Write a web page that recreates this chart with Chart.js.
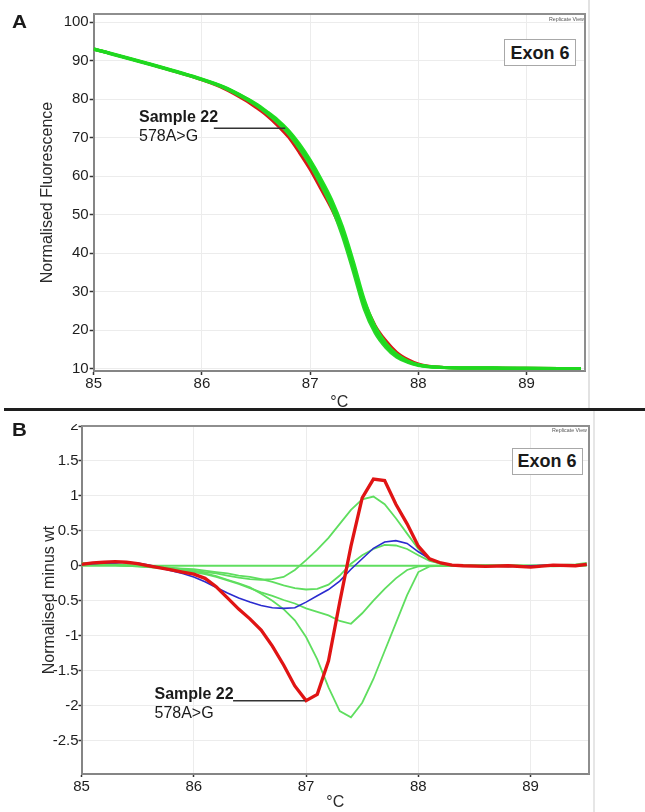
<!DOCTYPE html>
<html><head><meta charset="utf-8">
<script src="https://cdn.jsdelivr.net/npm/chart.js@4"></script>
<style>
html,body{margin:0;padding:0;background:#fff;}
body{width:645px;height:812px;position:relative;overflow:hidden;font-family:'Liberation Sans',Arial,sans-serif;color:#1a1a1a;}
canvas{position:absolute;left:0;}
.t{position:absolute;white-space:nowrap;line-height:1;}
.box{position:absolute;border:1.5px solid #a8a8a8;box-sizing:border-box;display:flex;align-items:center;justify-content:center;font-weight:bold;font-size:18px;color:#1a1a1a;background:#fff;line-height:1;}
.rv{position:absolute;font-size:5.3px;color:#555;white-space:nowrap;line-height:1;}
</style></head>
<body>
<canvas id="cA" width="645" height="412" style="top:0;width:645px;height:412px"></canvas>
<canvas id="cB" width="645" height="388" style="top:424px;width:645px;height:388px"></canvas>
<div style="position:absolute;left:4px;top:408px;width:641px;height:3px;background:#1e1e1e"></div>
<div style="position:absolute;left:588px;top:0;width:1.5px;height:408px;background:#e2e2e2"></div>
<div style="position:absolute;left:593px;top:411px;width:1.5px;height:401px;background:#e6e6e6"></div>

<div class="t" style="left:12px;top:12.6px;font-size:18.5px;font-weight:bold;transform:scaleX(1.12);transform-origin:left top">A</div>
<div class="t" style="left:12px;top:420px;font-size:19px;font-weight:bold;transform:scaleX(1.08);transform-origin:left top">B</div>

<div class="box" style="left:504px;top:39px;width:72px;height:27px">Exon 6</div>
<div class="box" style="left:511.5px;top:447.5px;width:71px;height:27px">Exon 6</div>
<div class="rv" style="left:549px;top:16.5px">Replicate View</div>
<div class="rv" style="left:552px;top:427.5px">Replicate View</div>

<div class="t" style="left:139px;top:108.8px;font-size:16px;font-weight:bold">Sample 22</div>
<div class="t" style="left:139px;top:128.2px;font-size:16px">578A&gt;G</div>
<div class="t" style="left:154.5px;top:685.8px;font-size:16px;font-weight:bold">Sample 22</div>
<div class="t" style="left:154.5px;top:704.5px;font-size:16px">578A&gt;G</div>

<script>
// ---------- Panel A : normalised melt curves ----------
const tempsA = [85.0, 85.5, 86.0, 86.2, 86.4, 86.5, 86.6, 86.7, 86.8, 86.9, 87.0, 87.1, 87.2, 87.3, 87.4, 87.5, 87.6, 87.7, 87.8, 87.9, 88.0, 88.1, 88.2, 88.4, 88.7, 89.0, 89.5];
const greenA1 = [93.0, 89.2, 85.1, 83.1, 80.3, 78.6, 76.6, 74.3, 71.5, 67.8, 63.6, 58.5, 52.8, 45.5, 36.3, 26.5, 20.0, 16.0, 13.3, 11.8, 10.9, 10.5, 10.3, 10.15, 10.1, 10.05, 10.0];
const greenA2 = [93.1, 89.3, 85.2, 83.2, 80.4, 78.8, 76.8, 74.6, 71.9, 68.4, 64.2, 59.3, 53.8, 46.8, 37.8, 28.0, 21.0, 16.6, 13.7, 12.0, 11.0, 10.5, 10.3, 10.15, 10.1, 10.05, 10.0];
const greenA3 = [92.9, 89.1, 85.0, 83.0, 80.1, 78.4, 76.3, 73.9, 71.0, 67.2, 62.9, 57.7, 51.8, 44.2, 35.0, 25.4, 19.2, 15.4, 12.9, 11.6, 10.8, 10.4, 10.25, 10.1, 10.1, 10.0, 10.0];
const greenA4 = [93.0, 89.2, 85.1, 83.1, 80.2, 78.5, 76.5, 74.1, 71.2, 67.4, 63.2, 58.2, 52.6, 45.6, 36.8, 27.2, 20.5, 16.2, 13.4, 11.9, 10.9, 10.5, 10.3, 10.15, 10.1, 10.05, 10.0];
const redA    = [93.0, 89.2, 85.0, 82.8, 79.7, 77.8, 75.7, 73.1, 70.1, 66.1, 61.7, 56.6, 51.4, 45.0, 36.6, 27.5, 21.2, 17.2, 14.2, 12.4, 11.2, 10.6, 10.35, 10.15, 10.1, 10.05, 10.0];
const xTicksA = [85, 86, 87, 88, 89];
const yTicksA = [10, 20, 30, 40, 50, 60, 70, 80, 90, 100];
const pointerA = {x1: 86.11, x2: 86.77, y: 72.4};

// ---------- Panel B : difference plot (normalised minus wt) ----------
const tempsB = [85.0,85.1,85.2,85.3,85.4,85.5,85.6,85.7,85.8,85.9,86.0,86.1,86.2,86.3,86.4,86.5,86.6,86.7,86.8,86.9,87.0,87.1,87.2,87.3,87.4,87.5,87.6,87.7,87.8,87.9,88.0,88.1,88.2,88.3,88.4,88.6,88.8,89.0,89.2,89.4,89.5];
const redB  = [0.02,0.04,0.05,0.06,0.05,0.03,0.0,-0.03,-0.06,-0.09,-0.12,-0.18,-0.30,-0.46,-0.62,-0.76,-0.92,-1.15,-1.42,-1.72,-1.93,-1.84,-1.36,-0.52,0.28,0.97,1.24,1.22,0.88,0.60,0.28,0.10,0.04,0.01,0.0,-0.01,0.0,-0.02,0.01,0.0,0.02];
const blueB = [0.02,0.03,0.04,0.04,0.05,0.04,0.01,-0.03,-0.07,-0.11,-0.16,-0.23,-0.31,-0.39,-0.46,-0.52,-0.57,-0.60,-0.61,-0.60,-0.52,-0.43,-0.34,-0.22,-0.05,0.10,0.25,0.34,0.36,0.32,0.20,0.10,0.04,0.01,0.0,0.0,-0.01,0.0,0.01,0.0,0.01];
const greenB0 = [0,0,0,0,0,0,0,0,0,0,0,0,0,0,0,0,0,0,0,0,0,0,0,0,0,0,0,0,0,0,0,0,0,0,0,0,0,0,0,0,0];
const greenB1 = [0.03,0.03,0.02,0.02,0.01,0.0,-0.01,-0.02,-0.03,-0.05,-0.07,-0.09,-0.11,-0.14,-0.17,-0.19,-0.20,-0.19,-0.16,-0.06,0.08,0.23,0.40,0.60,0.80,0.95,0.99,0.88,0.68,0.46,0.24,0.08,0.03,0.01,0.0,0.0,-0.01,0.0,0.0,0.01,0.02];
const greenB2 = [0.04,0.04,0.03,0.02,0.01,0.0,-0.01,-0.02,-0.03,-0.04,-0.05,-0.07,-0.09,-0.11,-0.14,-0.16,-0.19,-0.23,-0.28,-0.32,-0.34,-0.33,-0.27,-0.14,0.03,0.15,0.24,0.30,0.29,0.24,0.15,0.07,0.03,0.01,0.0,0.0,0.0,-0.01,0.0,0.0,0.01];
const greenB3 = [0.03,0.03,0.02,0.01,0.0,-0.01,-0.02,-0.03,-0.05,-0.07,-0.09,-0.12,-0.16,-0.21,-0.26,-0.32,-0.38,-0.43,-0.49,-0.54,-0.61,-0.66,-0.71,-0.79,-0.83,-0.68,-0.50,-0.33,-0.18,-0.06,-0.01,0.0,0.0,0.0,0.0,0.0,0.01,0.0,-0.01,0.0,0.02];
const greenB4 = [0.03,0.02,0.02,0.01,0.0,-0.01,-0.02,-0.03,-0.04,-0.06,-0.08,-0.11,-0.15,-0.20,-0.25,-0.31,-0.40,-0.50,-0.62,-0.78,-1.02,-1.34,-1.74,-2.08,-2.17,-1.96,-1.62,-1.22,-0.82,-0.42,-0.09,-0.01,0.0,0.0,0.0,0.01,0.0,0.0,0.01,0.02,0.04];
const xTicksB = [85, 86, 87, 88, 89];
const yTicksB = [2, 1.5, 1, 0.5, 0, -0.5, -1, -1.5, -2, -2.5];
const pointerB = {x1: 86.35, x2: 86.99, y: -1.93};

Chart.defaults.font.family = "'Liberation Sans', Arial, sans-serif";
Chart.defaults.color = '#1e1e1e';

const zip = (xs, ys) => xs.map((x, i) => ({x: x, y: ys[i]}));

const framePlugin = {
  id: 'frame',
  beforeDatasetsDraw(chart) {
    const {ctx, chartArea: a} = chart;
    ctx.save();
    ctx.strokeStyle = '#8e8e8e';
    ctx.lineWidth = 2;
    ctx.beginPath();
    ctx.moveTo(a.left, a.top); ctx.lineTo(a.right, a.top); ctx.lineTo(a.right, a.bottom);
    ctx.stroke();
    ctx.restore();
  }
};
function pointerPlugin(p) {
  return {
    id: 'pointer',
    afterDatasetsDraw(chart) {
      const {ctx, scales: {x, y}} = chart;
      ctx.save();
      ctx.strokeStyle = '#333';
      ctx.lineWidth = 1.5;
      ctx.beginPath();
      ctx.moveTo(x.getPixelForValue(p.x1), y.getPixelForValue(p.y));
      ctx.lineTo(x.getPixelForValue(p.x2), y.getPixelForValue(p.y));
      ctx.stroke();
      ctx.restore();
    }
  };
}
function setTicks(list) { return (axis) => { axis.ticks = list.map(v => ({value: v})); }; }

const line = (data, color, width, order) => ({
  data: data, borderColor: color, borderWidth: width, pointRadius: 0, fill: false, order: order
});

// Panel A
new Chart(document.getElementById('cA'), {
  type: 'line',
  data: {
    datasets: [
      Object.assign(line(zip(tempsA, greenA1), '#1fd81f', 3, 0), {cubicInterpolationMode: 'monotone'}),
      Object.assign(line(zip(tempsA, greenA2), '#22e022', 3, 0), {cubicInterpolationMode: 'monotone'}),
      Object.assign(line(zip(tempsA, greenA3), '#2bd62b', 3, 0), {cubicInterpolationMode: 'monotone'}),
      Object.assign(line(zip(tempsA, greenA4), '#18e418', 3, 0), {cubicInterpolationMode: 'monotone'}),
      Object.assign(line(zip(tempsA, redA), '#d81818', 3, 1), {cubicInterpolationMode: 'monotone'})
    ]
  },
  options: {
    responsive: false, animation: false, devicePixelRatio: 1,
    layout: {padding: {left: 38, top: 14, right: 60, bottom: 0}},
    plugins: {legend: {display: false}, tooltip: {enabled: false}},
    scales: {
      x: {
        type: 'linear', min: 85, max: 89.54,
        afterBuildTicks: setTicks(xTicksA),
        afterFit: (s) => { s.height = 41; s.paddingLeft = 0; s.paddingRight = 0; },
        ticks: {font: {size: 15}, color: '#1e1e1e', padding: 0, maxRotation: 0, callback: v => String(v)},
        grid: {color: '#ececec', lineWidth: 1, tickLength: 4, tickColor: '#333', tickWidth: 1.5},
        border: {color: '#858585', width: 2},
        title: {display: true, text: '°C', font: {size: 16}, color: '#2a2a2a', padding: 0}
      },
      y: {
        min: 9.35, max: 102.1,
        afterBuildTicks: setTicks(yTicksA),
        afterFit: (s) => { s.width = 55.7; s.paddingTop = 0; s.paddingBottom = 0; },
        ticks: {font: {size: 15}, color: '#1e1e1e', padding: 1, callback: v => String(v)},
        grid: {color: '#ececec', lineWidth: 1, tickLength: 4, tickColor: '#333', tickWidth: 1.5},
        border: {color: '#858585', width: 2},
        title: {display: true, text: 'Normalised Fluorescence', font: {size: 16}, color: '#2a2a2a', padding: 0}
      }
    }
  },
  plugins: [framePlugin, pointerPlugin(pointerA)]
});

// Panel B
const gB = 'rgb(95,222,95)';
new Chart(document.getElementById('cB'), {
  type: 'line',
  data: {
    datasets: [
      line(zip(tempsB, redB), '#e01414', 3.3, 0),
      line(zip(tempsB, blueB), '#2b2bcf', 1.6, 1),
      line(zip(tempsB, greenB0), gB, 1.8, 2),
      line(zip(tempsB, greenB1), gB, 1.8, 2),
      line(zip(tempsB, greenB2), gB, 1.8, 2),
      line(zip(tempsB, greenB3), gB, 1.8, 2),
      line(zip(tempsB, greenB4), gB, 1.8, 2)
    ]
  },
  options: {
    responsive: false, animation: false, devicePixelRatio: 1,
    elements: {line: {tension: 0}},
    layout: {padding: {left: 40, top: 2, right: 56, bottom: 0}},
    plugins: {legend: {display: false}, tooltip: {enabled: false}},
    scales: {
      x: {
        type: 'linear', min: 85, max: 89.52,
        afterBuildTicks: setTicks(xTicksB),
        afterFit: (s) => { s.height = 38; s.paddingLeft = 0; s.paddingRight = 0; },
        ticks: {font: {size: 15}, color: '#1e1e1e', padding: 1, maxRotation: 0, callback: v => String(v)},
        grid: {color: '#ececec', lineWidth: 1, tickLength: 3, tickColor: '#333', tickWidth: 1.5},
        border: {color: '#858585', width: 2},
        title: {display: true, text: '°C', font: {size: 16}, color: '#2a2a2a', padding: 0}
      },
      y: {
        min: -2.98, max: 2.0,
        afterBuildTicks: setTicks(yTicksB),
        afterFit: (s) => { s.width = 41.5; s.paddingTop = 0; s.paddingBottom = 0; },
        ticks: {font: {size: 15}, color: '#1e1e1e', padding: 0, callback: v => String(v)},
        grid: {color: '#ececec', lineWidth: 1, tickLength: 3, tickColor: '#333', tickWidth: 1.5},
        border: {color: '#858585', width: 2},
        title: {display: true, text: 'Normalised minus wt', font: {size: 16}, color: '#2a2a2a', padding: 0}
      }
    }
  },
  plugins: [framePlugin, pointerPlugin(pointerB)]
});
</script>
</body></html>
